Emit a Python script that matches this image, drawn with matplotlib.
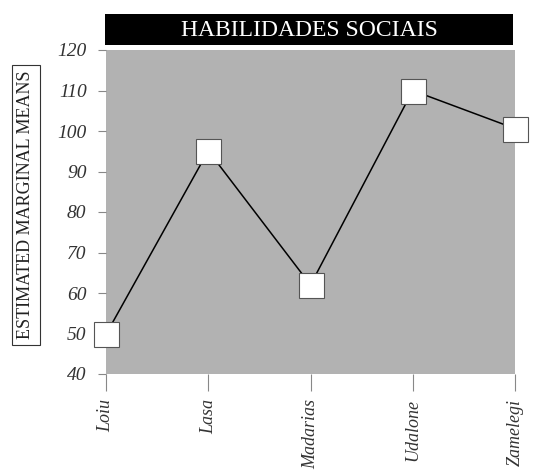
import matplotlib
matplotlib.use("Agg")
import matplotlib.pyplot as plt
from matplotlib.patches import Rectangle

categories = ["Loiu", "Lasa", "Madarias", "Udalone", "Zamelegi"]
values = [49.8, 95.1, 62, 110, 100.6]
yticks = [40, 50, 60, 70, 80, 90, 100, 110, 120]
title = "HABILIDADES SOCIAIS"
ylabel = "ESTIMATED MARGINAL MEANS"

plt.rcParams['font.family'] = ['Liberation Serif', 'DejaVu Serif']

fig = plt.figure(figsize=(5.34, 4.72), dpi=100)
ax = fig.add_axes([106/534, 1-374/472, 409/534, 324/472])
ax.set_facecolor("#b2b2b2")
x = list(range(len(categories)))
ax.plot(x, values, color="black", lw=1.1, marker="s", markersize=18,
        markerfacecolor="white", markeredgecolor="#555555", markeredgewidth=0.8,
        clip_on=False, zorder=3)
ax.set_xlim(0, len(categories) - 1)
ax.set_ylim(40, 120)
ax.set_yticks(yticks)
ax.set_yticklabels([str(v) for v in yticks], fontsize=14, fontstyle="italic", color="#333333")
ax.set_xticks(x)
ax.set_xticklabels(categories, rotation=90, fontsize=13, fontstyle="italic", color="#333333")
for s in ax.spines.values():
    s.set_visible(False)
ax.tick_params(axis="both", color="#888888", width=0.8)
ax.tick_params(axis="y", pad=8, length=6)
ax.tick_params(axis="x", pad=6, length=12)

# title bar
fig.patches.append(Rectangle((105/534, 1-45/472), 408/534, 31/472, transform=fig.transFigure,
                             facecolor="black", edgecolor="none"))
fig.text((105+513)/2/534, 1-30/472, title, color="white", fontsize=17,
         ha="center", va="center")

# y label box
fig.text(26/534, 1-205/472, ylabel, rotation=90, fontsize=13, ha="center", va="center",
         color="#222222",
         bbox=dict(boxstyle="square,pad=0.3", facecolor="white", edgecolor="#333333", lw=0.8))

fig.savefig("out.png", dpi=100)
